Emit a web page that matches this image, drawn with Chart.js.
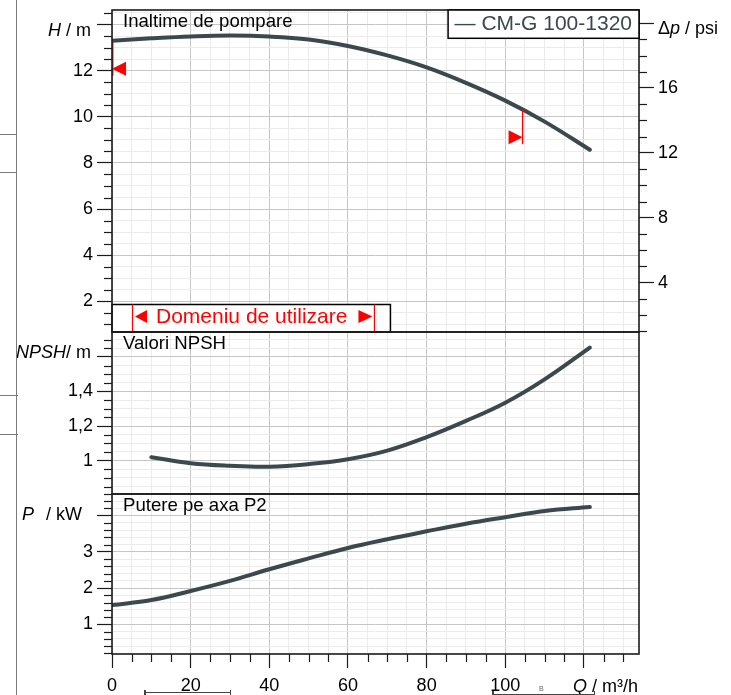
<!DOCTYPE html>
<html><head><meta charset="utf-8">
<script src="https://cdn.jsdelivr.net/npm/chart.js@4.4.1/dist/chart.umd.min.js"></script>
<style>
html,body{margin:0;padding:0;background:#fff;overflow:hidden}
#wrap{position:relative;width:731px;height:695px}
#c{position:absolute;left:0;top:0}
.d{position:absolute;background:#7a7a7a}
.k{position:absolute;background:#444}
.b{position:absolute;font:7px "Liberation Sans",Arial,sans-serif;color:#666}
</style></head><body>
<div id="wrap">
<canvas id="c" width="731" height="695"></canvas>
<div class="d" style="left:16px;top:0;width:1.4px;height:695px"></div>
<div class="d" style="left:0;top:133.5px;width:17px;height:1.2px"></div>
<div class="d" style="left:0;top:172px;width:17px;height:1.2px"></div>
<div class="d" style="left:0;top:395px;width:18px;height:1.2px"></div>
<div class="d" style="left:0;top:433.5px;width:18px;height:1.2px"></div>
<div class="k" style="left:144px;top:692px;width:87px;height:1.3px"></div>
<div class="k" style="left:144px;top:689.5px;width:1.5px;height:6px"></div>
<div class="k" style="left:229.5px;top:689.5px;width:1.5px;height:6px"></div>
<div class="k" style="left:492px;top:693.6px;width:103px;height:1.3px"></div>
<div class="k" style="left:492px;top:691px;width:1.5px;height:5px"></div>
<div class="k" style="left:593.5px;top:691px;width:1.5px;height:5px"></div>
<div class="b" style="left:539px;top:685px">B</div>
</div>
<script>
// ---- data ----
const Q_H    = [0, 10, 20, 30, 40, 50, 60, 70, 80, 90, 100, 110, 121.5];
const H_M    = [13.30, 13.40, 13.48, 13.52, 13.48, 13.35, 13.07, 12.66, 12.14, 11.47, 10.70, 9.79, 8.57];
const Q_NPSH = [10, 20, 30, 40, 50, 60, 70, 80, 90, 100, 110, 121.5];
const NPSH_M = [1.02, 0.985, 0.97, 0.965, 0.98, 1.008, 1.058, 1.136, 1.23, 1.335, 1.47, 1.654];
const Q_P    = [0, 10, 20, 30, 40, 50, 60, 70, 80, 90, 100, 110, 121.5];
const P_KW   = [1.53, 1.67, 1.92, 2.20, 2.52, 2.82, 3.11, 3.35, 3.57, 3.78, 3.96, 4.13, 4.24];
const RANGE_Q = [0, 104.4];          // operating range limits
const RANGE_H = [13.30, 10.33];      // head at those limits
const SERIES_NAME = 'CM-G 100-1320';
const PANEL_TITLES = ['Inaltime de pompare', 'Valori NPSH', 'Putere pe axa P2'];
const DOMAIN_LABEL = 'Domeniu de utilizare';
const Q_LABELS = [0, 20, 40, 60, 80, 100];
const H_LABELS = [2, 4, 6, 8, 10, 12];
const NPSH_LABELS = [1, 1.2, 1.4];
const P_LABELS = [1, 2, 3];
const PSI_LABELS = [4, 8, 12, 16];
const M_PER_PSI = 0.70307;

// ---- axis ranges ----
const Q_MIN = 0, Q_MAX = 134;
const H_MIN = 0.67, H_MAX = 14.63;
const N_MIN = 0.807, N_MAX = 1.744;
const P_MIN = 0.18, P_MAX = 4.6;

const FONT = '"Liberation Sans", Arial, sans-serif';
const INK = '#1c1c1c';
const CURVE = '#3b494e';
const GRID_MAJOR = '#c6c6c6', GRID_MINOR = '#ebebeb';
const isMult = (v, s) => Math.abs(v / s - Math.round(v / s)) < 1e-6;
const inList = (v, l) => l.some(t => Math.abs(t - v) < 1e-6);
const fmt = v => String(+v.toFixed(2)).replace('.', ',');
const pts = (xs, ys) => xs.map((x, i) => ({x, y: ys[i]}));

const LEFT_W = 112, RIGHT_W = 92, X_H = 41;

function vAxis(pos, stack, weight, stackWeight, min, max, step, major, labels, onArea) {
  return {
    type: 'linear', position: pos, stack, weight, stackWeight, min, max,
    border: {display: false},
    grid: {
      drawOnChartArea: onArea,
      color: c => (c.tick && isMult(c.tick.value, major)) ? GRID_MAJOR : GRID_MINOR,
      lineWidth: 1, tickLength: 15, tickWidth: 1.2,
      tickColor: c => (c.tick && isMult(c.tick.value, major)) ? INK : 'rgba(0,0,0,0)'
    },
    ticks: {
      stepSize: step, includeBounds: false, autoSkip: false, padding: 4,
      font: {family: FONT, size: 18}, color: '#000',
      callback: v => inList(v, labels) ? fmt(v) : ''
    },
    afterFit: s => { s.width = pos === 'left' ? LEFT_W : RIGHT_W; s.paddingTop = 0; s.paddingBottom = 0; }
  };
}

const scales = {
  x: {
    type: 'linear', position: 'bottom', min: Q_MIN, max: Q_MAX,
    border: {display: false},
    grid: {
      color: c => (c.tick && isMult(c.tick.value, 20)) ? GRID_MAJOR : GRID_MINOR,
      lineWidth: 1, tickLength: 14, tickWidth: 1.2,
      tickColor: c => (c.tick && isMult(c.tick.value, 20)) ? INK : 'rgba(0,0,0,0)'
    },
    ticks: {
      stepSize: 5, includeBounds: false, autoSkip: false, maxRotation: 0, minRotation: 0, padding: 7,
      font: {family: FONT, size: 18}, color: '#000',
      callback: v => inList(v, Q_LABELS) ? fmt(v) : ''
    },
    afterFit: s => { s.height = X_H; s.paddingLeft = 0; s.paddingRight = 0; }
  },
  yH: vAxis('left', 'left', 3, 322, H_MIN, H_MAX, 0.5, 2, H_LABELS, true),
  yN: vAxis('left', 'left', 2, 162, N_MIN, N_MAX, 0.05, 0.2, NPSH_LABELS, true),
  yP: vAxis('left', 'left', 1, 160, P_MIN, P_MAX, 0.2, 1, P_LABELS, true),
  yPsi: vAxis('right', 'right', 0, 322, H_MIN / M_PER_PSI, H_MAX / M_PER_PSI, 1, 4, PSI_LABELS, false),
  yFill: {
    type: 'linear', position: 'right', stack: 'right', weight: 1, stackWeight: 322,
    ticks: {display: false}, grid: {display: false}, border: {display: false},
    afterFit: s => { s.width = RIGHT_W; s.paddingTop = 0; s.paddingBottom = 0; }
  }
};

function richText(ctx, parts, x, y, align, size) {
  const f = p => (p.i ? 'italic ' : '') + size + 'px ' + FONT;
  let total = 0;
  parts.forEach(p => { ctx.font = f(p); p.w = ctx.measureText(p.t).width; total += p.w; });
  let cx = align === 'right' ? x - total : x;
  ctx.textAlign = 'left';
  parts.forEach(p => { ctx.font = f(p); ctx.fillText(p.t, cx, y); cx += p.w; });
}

const deco = {
  id: 'deco',
  afterDraw(chart) {
    const {ctx, chartArea: ca} = chart;
    const {x, yH, yN, yP, yPsi} = chart.scales;
    ctx.save();
    ctx.textBaseline = 'alphabetic';

    // minor tick marks
    ctx.strokeStyle = INK; ctx.lineWidth = 1.2;
    const minor = (s, major, side) => {
      s.ticks.forEach(t => {
        if (isMult(t.value, major)) return;
        const p = Math.round(s.getPixelForValue(t.value)) + 0.5;
        ctx.beginPath();
        if (side === 'left') { ctx.moveTo(s.right - 8, p); ctx.lineTo(s.right, p); }
        else if (side === 'right') { ctx.moveTo(s.left, p); ctx.lineTo(s.left + 8, p); }
        else { ctx.moveTo(p, s.top); ctx.lineTo(p, s.top + 8); }
        ctx.stroke();
      });
    };
    minor(yH, 2, 'left'); minor(yN, 0.2, 'left'); minor(yP, 1, 'left');
    minor(yPsi, 4, 'right'); minor(x, 20, 'bottom');

    // operating range box
    ctx.font = '21px ' + FONT;
    const tw = ctx.measureText(DOMAIN_LABEL).width;
    const bTop = yH.bottom - 27.5, bBot = yH.bottom;
    const l1 = ca.left + 20.5, aL = ca.left + 23, tx = ca.left + 44;
    const aR = tx + tw + 11, l2 = aR + 16, bRight = l2 + 16;
    ctx.fillStyle = '#fff';
    ctx.fillRect(ca.left, bTop, bRight - ca.left, bBot - bTop);
    ctx.strokeStyle = '#000'; ctx.lineWidth = 1.5;
    ctx.strokeRect(ca.left, bTop, bRight - ca.left, bBot - bTop);
    ctx.strokeStyle = '#ff0000'; ctx.lineWidth = 1.2;
    [l1, l2].forEach(lx => { ctx.beginPath(); ctx.moveTo(lx, bTop); ctx.lineTo(lx, bBot); ctx.stroke(); });
    ctx.fillStyle = '#ff0000';
    const cy = bTop + 12;
    ctx.beginPath(); ctx.moveTo(aL, cy); ctx.lineTo(aL + 12, cy - 6.5); ctx.lineTo(aL + 12, cy + 6.5); ctx.closePath(); ctx.fill();
    ctx.beginPath(); ctx.moveTo(aR + 14, cy); ctx.lineTo(aR, cy - 6.5); ctx.lineTo(aR, cy + 6.5); ctx.closePath(); ctx.fill();
    ctx.fillText(DOMAIN_LABEL, tx, bBot - 9.2);

    // operating range markers on the head curve
    RANGE_Q.forEach((q, i) => {
      const px = x.getPixelForValue(q), py = yH.getPixelForValue(RANGE_H[i]);
      ctx.strokeStyle = '#ff0000'; ctx.lineWidth = 1.3;
      ctx.beginPath(); ctx.moveTo(px + (i === 0 ? 0.8 : 0), py); ctx.lineTo(px + (i === 0 ? 0.8 : 0), py + 35); ctx.stroke();
      const d = i === 0 ? 1 : -1;
      ctx.fillStyle = '#ff0000';
      ctx.beginPath(); ctx.moveTo(px, py + 28); ctx.lineTo(px + d * 14, py + 21); ctx.lineTo(px + d * 14, py + 35); ctx.closePath(); ctx.fill();
    });

    // panel frames
    ctx.strokeStyle = INK; ctx.lineWidth = 1.6;
    [yH, yN, yP].forEach(s => ctx.strokeRect(ca.left, s.top, ca.right - ca.left, s.bottom - s.top));

    // legend
    ctx.font = '21px ' + FONT;
    const lt = '\u2014 ' + SERIES_NAME;
    const lw = ctx.measureText(lt).width + 13.5;
    ctx.fillStyle = '#fff';
    ctx.fillRect(ca.right - lw, yH.top, lw, 28.3);
    ctx.strokeStyle = '#000'; ctx.lineWidth = 1.5;
    ctx.strokeRect(ca.right - lw, yH.top, lw, 28.3);
    ctx.fillStyle = CURVE;
    ctx.fillText(lt, ca.right - lw + 6.5, yH.top + 20.3);

    // panel titles
    ctx.fillStyle = '#000'; ctx.font = '18.6px ' + FONT;
    [yH, yN, yP].forEach((s, i) => ctx.fillText(PANEL_TITLES[i], ca.left + 11, s.top + 17.3));

    // axis titles
    richText(ctx, [{t: 'H', i: true}, {t: ' / m'}], ca.left - 21, yH.getPixelForValue(14) + 11, 'right', 18);
    richText(ctx, [{t: 'NPSH', i: true}, {t: '/ m'}], ca.left - 21, yN.getPixelForValue(1.6) + 1, 'right', 18);
    richText(ctx, [{t: 'P', i: true}], ca.left - 90, yP.getPixelForValue(4) + 4.5, 'left', 18);
    richText(ctx, [{t: '/ kW'}], ca.left - 30, yP.getPixelForValue(4) + 4.5, 'right', 18);
    richText(ctx, [{t: '\u0394'}, {t: 'p', i: true}, {t: ' / psi'}], ca.right + 19, yPsi.getPixelForValue(20) + 11, 'left', 18);
    richText(ctx, [{t: 'Q', i: true}, {t: ' / m\u00b3/h'}], ca.right - 1, x.top + 38, 'right', 18);
    ctx.restore();
  }
};

const line = (data, axis, label) => ({
  label, data, yAxisID: axis, xAxisID: 'x',
  borderColor: CURVE, borderWidth: 4, borderCapStyle: 'round', borderJoinStyle: 'round',
  pointRadius: 0, tension: 0.4, fill: false
});

new Chart(document.getElementById('c'), {
  type: 'line',
  data: {
    datasets: [
      line(pts(Q_H, H_M), 'yH', SERIES_NAME),
      line(pts(Q_NPSH, NPSH_M), 'yN', 'NPSH'),
      line(pts(Q_P, P_KW), 'yP', 'P2')
    ]
  },
  options: {
    responsive: false, animation: false, devicePixelRatio: 1,
    layout: {padding: {top: 10, left: 0, right: 0, bottom: 0}},
    plugins: {legend: {display: false}, tooltip: {enabled: false}},
    scales
  },
  plugins: [deco]
});
</script>
</body></html>
